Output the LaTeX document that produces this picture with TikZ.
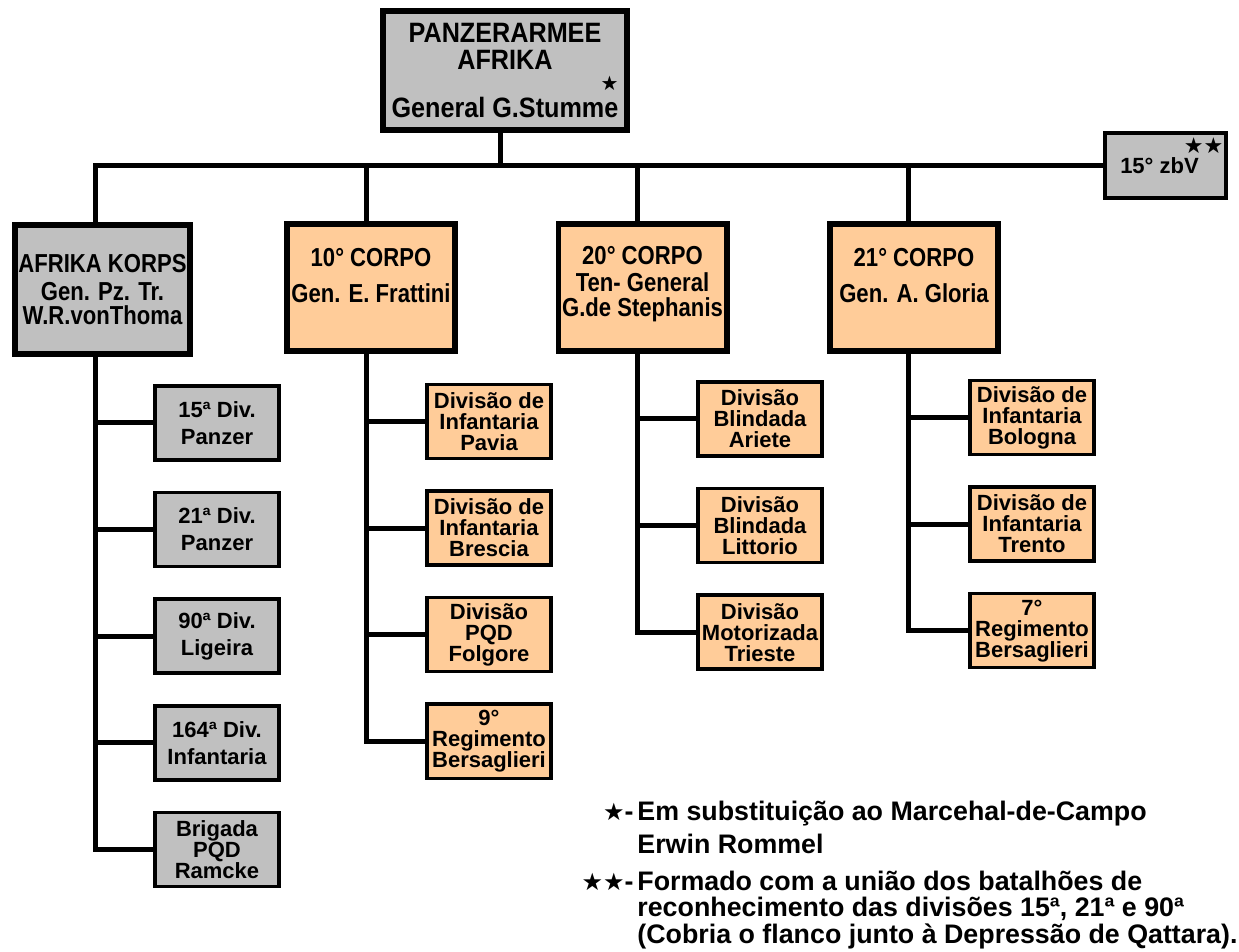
\documentclass[tikz,border=0pt]{standalone}
\usepackage{fontspec}
\setmainfont{Liberation Sans}
\newfontfamily\corpsfont[FakeStretch=0.85]{Liberation Sans}
\newfontfamily\topfont[FakeStretch=0.9]{Liberation Sans}
\newfontfamily\starfont{DejaVu Sans}
\usetikzlibrary{positioning}
\definecolor{boxgray}{HTML}{C0C0C0}
\definecolor{boxpeach}{HTML}{FFCC99}
\newcommand{\nl}{\\[-3pt]}
\newcommand{\stars}[1]{{\starfont\fontsize{#1}{#1}\selectfont ★}}

\begin{document}
\begin{tikzpicture}[x=0.5pt, y=-0.5pt,
	conn/.style={line width=2.5pt},
	hq/.style={draw, line width=3pt, fill=boxgray, minimum width=122pt, minimum height=59.5pt, inner sep=0pt, align=center, font=\topfont\bfseries\fontsize{14}{13.5}\selectfont},
	corps/.style={draw, line width=2.8pt, minimum width=84.2pt, minimum height=63.7pt, inner sep=0pt, align=center, font=\corpsfont\bfseries\fontsize{13}{14}\selectfont},
	div/.style={draw, line width=1.8pt, minimum width=62pt, minimum height=37pt, inner sep=0pt, align=center, font=\bfseries\fontsize{11}{13.5}\selectfont},
	german/.style={fill=boxgray},
	italian/.style={fill=boxpeach},
	note/.style={anchor=base west, inner sep=0pt, align=left, font=\bfseries\fontsize{13.4}{13.25}\selectfont},
	keymark/.style={anchor=base east, inner sep=0pt, font=\bfseries\fontsize{13.4}{13.25}\selectfont}]
	\useasboundingbox[fill=white] (0,0) rectangle (1239,952);

	\node[hq] (top) at (505,70.5) {PANZERARMEE\\AFRIKA\\[2pt]General G.Stumme\llap{\raisebox{0.95em}{\stars{10}}}};
	\node[div, german, minimum width=60.5pt, minimum height=32.5pt, label={[anchor=north east, inner sep=0pt, xshift=-2pt, yshift=-3pt]north east:\stars{11}\stars{11}}] (zbv) at (1165.5,165.5) {\raisebox{-3pt}{15° zbV}\hspace{6pt}};

	\node[corps, german, minimum width=87.7pt, minimum height=64.7pt] (ak) at (102.5,289.5) {AFRIKA KORPS\\[0pt]Gen. Pz. Tr.\\[-2pt]W.R.vonThoma};
	\node[corps, italian] (c10) at (371,287.5) {10° CORPO\\[4pt]Gen. E. Frattini\\[-1.5pt]\mbox{}};
	\node[corps, italian] (c20) at (642.5,287.5) {20° CORPO\\[-0.5pt]Ten- General\\[-1.5pt]G.de Stephanis\\[-7.5pt]\mbox{}};
	\node[corps, italian] (c21) at (914,287.5) {21° CORPO\\[4pt]Gen. A. Gloria\\[-1.5pt]\mbox{}};

	\node[div, german] (pz15) at (217,423) {15ª Div.\\Panzer};
	\node[div, german, below=14.5pt of pz15] (pz21) {21ª Div.\\Panzer};
	\node[div, german, below=14.5pt of pz21] (lig90) {90ª Div.\\Ligeira};
	\node[div, german, below=14.5pt of lig90] (inf164) {164ª Div.\\Infantaria};
	\node[div, german, below=14.5pt of inf164] (ramcke) {Brigada\nl PQD\nl Ramcke};

	\node[div, italian] (pavia) at (489,421.5) {Divisão de\nl Infantaria\nl Pavia};
	\node[div, italian, below=14.5pt of pavia] (brescia) {Divisão de\nl Infantaria\nl Brescia};
	\node[div, italian, below=14.5pt of brescia] (folgore) {Divisão\nl PQD\nl Folgore};
	\node[div, italian, below=14.5pt of folgore] (bers9) {9°\nl Regimento\nl Bersaglieri};

	\node[div, italian] (ariete) at (760,419) {Divisão\nl Blindada\nl Ariete};
	\node[div, italian, below=14.5pt of ariete] (littorio) {Divisão\nl Blindada\nl Littorio};
	\node[div, italian, below=14.5pt of littorio] (trieste) {Divisão\nl Motorizada\nl Trieste};

	\node[div, italian] (bologna) at (1032,417.5) {Divisão de\nl Infantaria\nl Bologna};
	\node[div, italian, below=14.5pt of bologna] (trento) {Divisão de\nl Infantaria\nl Trento};
	\node[div, italian, below=14.5pt of trento] (bers7) {7°\nl Regimento\nl Bersaglieri};

	\draw[conn] ([xshift=-2.5pt]top.south) -- ([xshift=-2.5pt]top.south |- zbv.west);
	\draw[conn] (zbv.west) -| ([xshift=-3.5pt]ak.north);
	\draw[conn] ([xshift=-2.5pt]c10.north) -- ([xshift=-2.5pt]c10.north |- zbv.west);
	\draw[conn] ([xshift=-2.5pt]c20.north) -- ([xshift=-2.5pt]c20.north |- zbv.west);
	\draw[conn] ([xshift=-3pt]c21.north) -- ([xshift=-3pt]c21.north |- zbv.west);

	\draw[conn] ([xshift=-3.5pt]ak.south) |- (pz15.west);
	\draw[conn] ([xshift=-3.5pt]ak.south) |- (pz21.west);
	\draw[conn] ([xshift=-3.5pt]ak.south) |- (lig90.west);
	\draw[conn] ([xshift=-3.5pt]ak.south) |- (inf164.west);
	\draw[conn] ([xshift=-3.5pt]ak.south) |- (ramcke.west);

	\draw[conn] ([xshift=-2.5pt]c10.south) |- (pavia.west);
	\draw[conn] ([xshift=-2.5pt]c10.south) |- (brescia.west);
	\draw[conn] ([xshift=-2.5pt]c10.south) |- (folgore.west);
	\draw[conn] ([xshift=-2.5pt]c10.south) |- (bers9.west);

	\draw[conn] ([xshift=-2.5pt]c20.south) |- (ariete.west);
	\draw[conn] ([xshift=-2.5pt]c20.south) |- (littorio.west);
	\draw[conn] ([xshift=-2.5pt]c20.south) |- (trieste.west);

	\draw[conn] ([xshift=-3pt]c21.south) |- (bologna.west);
	\draw[conn] ([xshift=-3pt]c21.south) |- (trento.west);
	\draw[conn] ([xshift=-3pt]c21.south) |- (bers7.west);

	\node[note] (notea) at (637,853) {Em substituição ao Marcehal-de-Campo\\[3.25pt]Erwin Rommel};
	\node[keymark] (marka) at (634,820) {\stars{12}-};
	\node[note] (noteb) at (637,943) {Formado com a união dos batalhões de\\reconhecimento das divisões 15ª, 21ª e 90ª\\(Cobria o flanco junto à Depressão de Qattara).};
	\node[keymark] (markb) at (634,890) {\stars{12}\stars{12}-};
\end{tikzpicture}
\end{document}
